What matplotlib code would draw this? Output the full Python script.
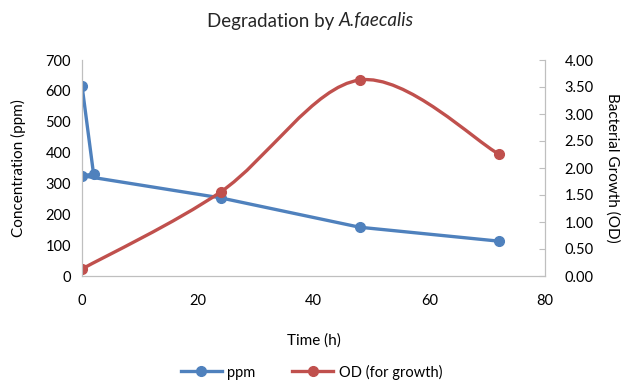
import numpy as np
import matplotlib
matplotlib.use('Agg')
from matplotlib import pyplot as plt
from matplotlib.path import Path
from matplotlib.patches import PathPatch
from matplotlib.lines import Line2D

plt.rcParams['font.family'] = ['Lato', 'DejaVu Sans']

# data
time_ppm = [0, 2, 0, 24, 48, 72]
ppm = [617, 330, 325, 253, 158, 113]
time_od = [0, 24, 48, 72]
od = [0.13, 1.56, 3.63, 2.26]

blue = '#4f81bd'
red = '#c0504d'
grey = '#bfbfbf'


def smooth_path(x, y):
    # excel style smoothed line: cubic bezier through every point
    p = np.column_stack([x, y]).astype(float)
    ext = np.vstack([p[0], p, p[-1]])
    verts = [p[0]]
    codes = [Path.MOVETO]
    for i in range(len(p) - 1):
        c1 = ext[i + 1] + (ext[i + 2] - ext[i]) / 6
        c2 = ext[i + 2] - (ext[i + 3] - ext[i + 1]) / 6
        verts += [c1, c2, p[i + 1]]
        codes += [Path.CURVE4] * 3
    return Path(verts, codes)


fig = plt.figure(figsize=(6.23, 3.8), dpi=100)
ax = fig.add_axes([82 / 623, 1 - 276 / 380, 463 / 623, 216 / 380])
ax2 = ax.twinx()

ax.plot(time_ppm, ppm, color=blue, lw=2.4, marker='o', ms=7, zorder=3)
ax2.add_patch(PathPatch(smooth_path(time_od, od), fill=False, ec=red, lw=2.4))
ax2.plot(time_od, od, ls='none', color=red, marker='o', ms=7)

ax.set_xlim(0, 80)
ax.set_ylim(0, 700)
ax2.set_ylim(0, 4)
ax.set_xticks(range(0, 81, 20))
ax.set_yticks(range(0, 701, 100))
ax2.set_yticks(np.arange(0, 4.01, 0.5))
ax2.set_yticklabels([f'{v:.2f}' for v in np.arange(0, 4.01, 0.5)])

for a in (ax, ax2):
    for s in a.spines.values():
        s.set_color(grey)
    a.spines['top'].set_visible(False)
ax.tick_params(axis='both', length=0, labelsize=10.5, colors='#000000', pad=8)
ax.tick_params(axis='x', pad=13)
ax2.tick_params(axis='y', direction='in', length=4, color=grey, labelsize=10.5, pad=14)

ax.set_xlabel('Time (h)', fontsize=11, labelpad=18)
ax.set_ylabel('Concentration (ppm)', fontsize=11, labelpad=14)
ax2.set_ylabel('Bacterial Growth (OD)', fontsize=11, rotation=270, labelpad=19)

# title: plain part + italic species name
ty = 1 - 21 / 380
split = 339 / 623
fig.text(split, ty, 'Degradation by ', ha='right', va='center', fontsize=13.5, color='#262626')
fig.text(split, ty, 'A.faecalis', ha='left', va='center', fontsize=13.5, color='#262626',
         style='italic')

handles = [Line2D([], [], color=blue, lw=2.4, marker='o', ms=7),
           Line2D([], [], color=red, lw=2.4, marker='o', ms=7)]
fig.legend(handles, ['ppm', 'OD (for growth)'], loc='center', bbox_to_anchor=(0.5, 1 - 372 / 380),
           ncol=2, frameon=False, fontsize=10.5, handlelength=2.8, columnspacing=2.5, handletextpad=0.4)

fig.savefig('out.png', dpi=100)
